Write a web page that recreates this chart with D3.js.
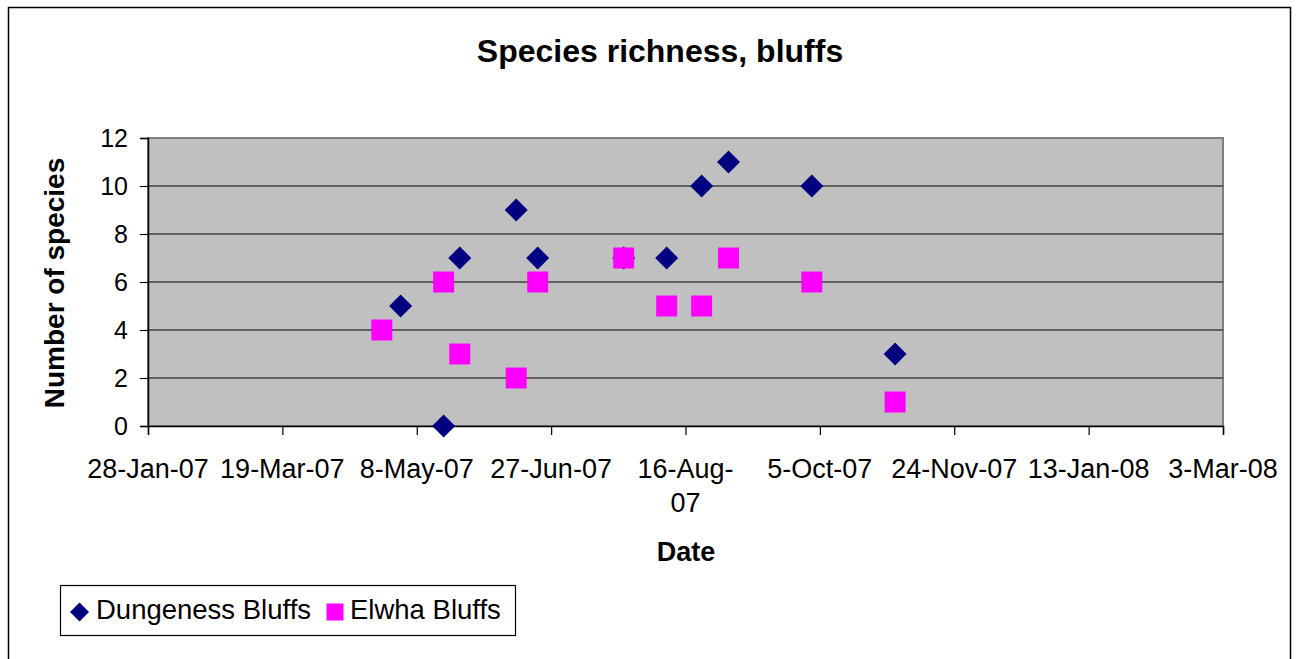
<!DOCTYPE html>
<html>
<head>
<meta charset="utf-8">
<script src="https://cdn.jsdelivr.net/npm/d3@7"></script>
<style>
  body { margin: 0; background: #fff; }
  text { font-family: "Liberation Sans", Arial, sans-serif; fill: #000; }
</style>
</head>
<body>
<script>
// sampling dates and species counts
const dungenessDates = ["2007-05-02", "2007-05-18", "2007-05-24", "2007-06-14", "2007-06-22", "2007-07-24",
  "2007-08-09", "2007-08-22", "2007-09-01", "2007-10-02", "2007-11-02"];
const dungenessCounts = [5, 0, 7, 9, 7, 7, 7, 10, 11, 10, 3];

const elwhaDates = ["2007-04-25", "2007-05-18", "2007-05-24", "2007-06-14", "2007-06-22", "2007-07-24",
  "2007-08-09", "2007-08-22", "2007-09-01", "2007-10-02", "2007-11-02"];
const elwhaCounts = [4, 6, 3, 2, 6, 7, 5, 5, 7, 6, 1];

// axis ticks
const xTickDates = ["2007-01-28", "2007-03-19", "2007-05-08", "2007-06-27", "2007-08-16",
  "2007-10-05", "2007-11-24", "2008-01-13", "2008-03-03"];
// excel wrapped one of the labels onto two lines
const xTickLabels = [["28-Jan-07"], ["19-Mar-07"], ["8-May-07"], ["27-Jun-07"], ["16-Aug-", "07"],
  ["5-Oct-07"], ["24-Nov-07"], ["13-Jan-08"], ["3-Mar-08"]];
const yTicks = [0, 2, 4, 6, 8, 10, 12];

const parse = d3.utcParse("%Y-%m-%d");

const width = 1297;
const height = 659;
const plot = {left: 148, right: 1223, top: 138, bottom: 426};

const svg = d3.select('body')
  .append('svg')
  .attr('width', width)
  .attr('height', height);

// outer chart border (bottom edge is cut off in the picture)
svg.append('rect')
  .attr('x', 8.5).attr('y', 7.5)
  .attr('width', 1282).attr('height', 700)
  .attr('fill', '#fff')
  .attr('stroke', '#000')
  .attr('stroke-width', 1.5);

const xScale = d3.scaleUtc()
  .domain([parse(xTickDates[0]), parse(xTickDates[xTickDates.length - 1])])
  .range([plot.left, plot.right]);

const yScale = d3.scaleLinear()
  .domain([0, 12])
  .range([plot.bottom, plot.top]);

// plot area
svg.append('rect')
  .attr('x', plot.left).attr('y', plot.top)
  .attr('width', plot.right - plot.left)
  .attr('height', plot.bottom - plot.top)
  .attr('fill', '#c0c0c0')
  .attr('stroke', '#808080')
  .attr('stroke-width', 2);

// gridlines
svg.append('g')
  .selectAll('line')
  .data(yTicks.filter(d => d > 0 && d < 12))
  .join('line')
  .attr('x1', plot.left).attr('x2', plot.right)
  .attr('y1', d => yScale(d)).attr('y2', d => yScale(d))
  .attr('stroke', '#000')
  .attr('stroke-width', 1.2);

// y axis
const yAxis = d3.axisLeft(yScale).tickValues(yTicks).tickSize(8).tickPadding(12);
const gy = svg.append('g')
  .attr('transform', `translate(${plot.left},0)`)
  .call(yAxis);
gy.select('.domain').attr('stroke', '#000').attr('stroke-width', 1.5);
gy.selectAll('.tick line').attr('stroke', '#000').attr('stroke-width', 1.2);
gy.selectAll('text')
  .style('font-size', '25px')
  .style('font-family', '"Liberation Sans", Arial, sans-serif');

// x axis
const xAxis = d3.axisBottom(xScale)
  .tickValues(xTickDates.map(parse))
  .tickSize(9)
  .tickFormat('');
const gx = svg.append('g')
  .attr('transform', `translate(0,${plot.bottom})`)
  .call(xAxis);
gx.select('.domain').attr('stroke', '#000').attr('stroke-width', 1.5);
gx.selectAll('.tick line').attr('stroke', '#000').attr('stroke-width', 1.2);

// x tick labels
svg.append('g')
  .selectAll('text')
  .data(xTickDates)
  .join('text')
  .attr('x', d => xScale(parse(d)))
  .attr('y', plot.bottom + 52)
  .attr('text-anchor', 'middle')
  .style('font-size', '27px')
  .each(function(d, i) {
    const t = d3.select(this);
    xTickLabels[i].forEach((line, j) => {
      t.append('tspan')
        .attr('x', xScale(parse(d)))
        .attr('dy', j === 0 ? 0 : 34)
        .text(line);
    });
  });

// markers
const diamond = d3.symbol().type(d3.symbolDiamond2).size(337);

svg.append('g')
  .selectAll('path')
  .data(dungenessDates)
  .join('path')
  .attr('d', diamond)
  .attr('transform', (d, i) => `translate(${xScale(parse(d))},${yScale(dungenessCounts[i])})`)
  .attr('fill', '#000080');

const sq = 21;
svg.append('g')
  .selectAll('rect')
  .data(elwhaDates)
  .join('rect')
  .attr('x', d => xScale(parse(d)) - sq / 2)
  .attr('y', (d, i) => yScale(elwhaCounts[i]) - sq / 2)
  .attr('width', sq)
  .attr('height', sq)
  .attr('fill', '#ff00ff');

// title
svg.append('text')
  .attr('x', 660)
  .attr('y', 62)
  .attr('text-anchor', 'middle')
  .style('font-size', '32px')
  .style('font-weight', 'bold')
  .text('Species richness, bluffs');

// axis titles
svg.append('text')
  .attr('transform', `translate(64,${(plot.top + plot.bottom) / 2 + 1}) rotate(-90)`)
  .attr('text-anchor', 'middle')
  .style('font-size', '28px')
  .style('font-weight', 'bold')
  .text('Number of species');

svg.append('text')
  .attr('x', 686)
  .attr('y', 561)
  .attr('text-anchor', 'middle')
  .style('font-size', '27px')
  .style('font-weight', 'bold')
  .text('Date');

// legend
const legend = svg.append('g');
legend.append('rect')
  .attr('x', 60.5).attr('y', 585.5)
  .attr('width', 455).attr('height', 50)
  .attr('fill', '#fff')
  .attr('stroke', '#000')
  .attr('stroke-width', 1.2);

legend.append('path')
  .attr('d', d3.symbol().type(d3.symbolDiamond2).size(230))
  .attr('transform', 'translate(79.5,612)')
  .attr('fill', '#000080');
legend.append('text')
  .attr('x', 96).attr('y', 619)
  .style('font-size', '27.5px')
  .text('Dungeness Bluffs');

legend.append('rect')
  .attr('x', 326.5).attr('y', 603.5)
  .attr('width', 17).attr('height', 17)
  .attr('fill', '#ff00ff');
legend.append('text')
  .attr('x', 350).attr('y', 619)
  .style('font-size', '27.5px')
  .text('Elwha Bluffs');
</script>
</body>
</html>
